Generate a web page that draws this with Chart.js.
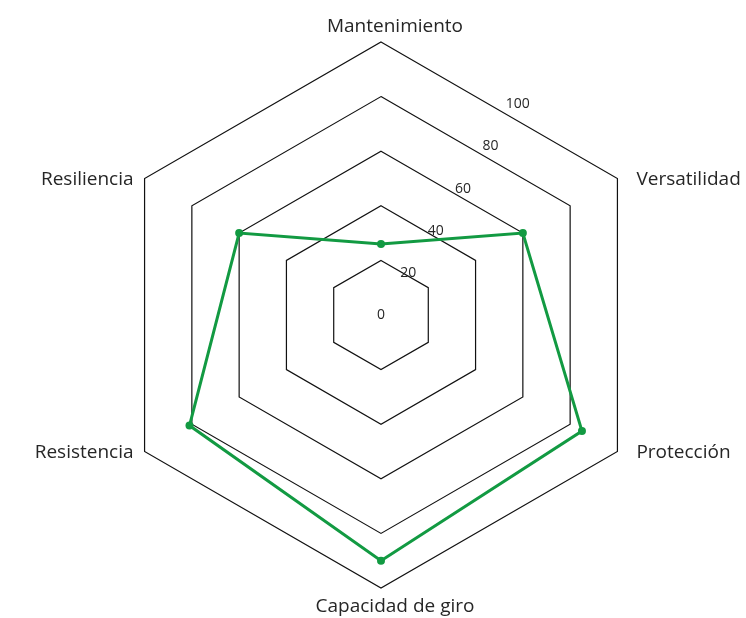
<!DOCTYPE html>
<html>
<head>
<meta charset="utf-8">
<title>Radar</title>
<script src="https://cdn.jsdelivr.net/npm/chart.js@4.4.0/dist/chart.umd.min.js"></script>
<style>
  html, body { margin: 0; padding: 0; background: #ffffff; }
  canvas { display: block; }
</style>
</head>
<body>
<canvas id="c" width="746" height="618"></canvas>
<script>
const categories = ['Mantenimiento', 'Versatilidad', 'Protección', 'Capacidad de giro', 'Resistencia', 'Resiliencia'];
const seriesValues = [26, 60, 85, 90, 81, 60];
const tickValues = [0, 20, 40, 60, 80, 100];

const GREEN = '#129a42';
const TEXT = '#262626';

const labelPlugin = {
  id: 'customLabels',
  afterDraw(chart) {
    const scale = chart.scales.r;
    const ctx = chart.ctx;
    ctx.save();
    // category labels
    ctx.font = '19px "Open Sans"';
    ctx.fillStyle = TEXT;
    ctx.textBaseline = 'alphabetic';
    categories.forEach((lab, i) => {
      const p = scale.getPointPosition(i, scale.drawingArea);
      const c = Math.cos(p.angle), s = Math.sin(p.angle);
      let x = p.x, y = p.y;
      if (Math.abs(c) < 0.01) {
        ctx.textAlign = 'center';
        x += 14;
        y = s < 0 ? p.y - 10 : p.y + 24;
      } else if (c > 0) {
        ctx.textAlign = 'left';
        x += 19;
        y = p.y + 6;
      } else {
        ctx.textAlign = 'right';
        x -= 11;
        y = p.y + 6;
      }
      ctx.fillText(lab, x, y);
    });
    // tick labels along a tilted line
    ctx.font = '14px "Open Sans"';
    ctx.textAlign = 'center';
    ctx.textBaseline = 'middle';
    const a = 33 * Math.PI / 180;
    tickValues.forEach(v => {
      const d = scale.getDistanceFromCenterForValue(v) * 0.92;
      const x = scale.xCenter + d * Math.sin(a);
      const y = scale.yCenter - d * Math.cos(a);
      ctx.fillText(String(v), x, y);
    });
    ctx.restore();
  }
};

new Chart(document.getElementById('c'), {
  type: 'radar',
  data: {
    labels: categories,
    datasets: [{
      data: seriesValues,
      borderColor: GREEN,
      backgroundColor: 'rgba(0,0,0,0)',
      borderWidth: 3,
      fill: false,
      pointRadius: 4,
      pointBackgroundColor: GREEN,
      pointBorderColor: GREEN,
      pointBorderWidth: 0,
      tension: 0
    }]
  },
  options: {
    responsive: false,
    animation: false,
    devicePixelRatio: 1,
    layout: { padding: { left: 108, right: 92, top: 42, bottom: 30 } },
    plugins: { legend: { display: false }, tooltip: { enabled: false } },
    scales: {
      r: {
        min: 0,
        max: 100,
        ticks: { display: false, stepSize: 20 },
        grid: { color: '#111111', lineWidth: 1.2 },
        angleLines: { display: false },
        pointLabels: { display: false }
      }
    }
  },
  plugins: [labelPlugin]
});
</script>
</body>
</html>
